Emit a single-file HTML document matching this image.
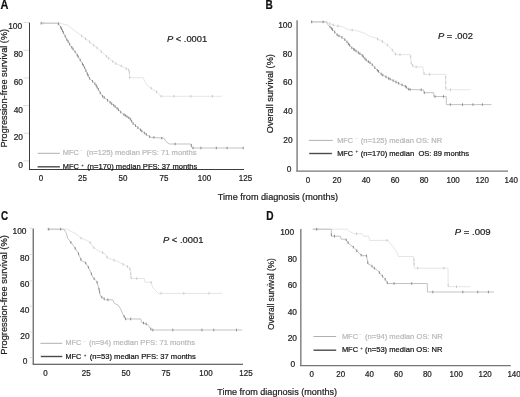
<!DOCTYPE html>
<html><head><meta charset="utf-8"><style>
html,body{margin:0;padding:0;background:#fff;width:520px;height:397px;overflow:hidden}
svg{display:block;font-family:"Liberation Sans", sans-serif;filter:blur(0.45px)}
</style></head><body>
<svg width="520" height="397" viewBox="0 0 520 397" font-family='"Liberation Sans", sans-serif'>
<rect width="520" height="397" fill="#fff"/>
<text x="0.40" y="8.50" font-size="12" text-anchor="start" fill="#111" stroke="#111" stroke-width="0.22" font-weight="bold" textLength="7.9" lengthAdjust="spacingAndGlyphs">A</text>
<text x="265.40" y="8.70" font-size="12" text-anchor="start" fill="#111" stroke="#111" stroke-width="0.22" font-weight="bold" textLength="7.3" lengthAdjust="spacingAndGlyphs">B</text>
<text x="1.00" y="220.30" font-size="12" text-anchor="start" fill="#111" stroke="#111" stroke-width="0.22" font-weight="bold" textLength="7.1" lengthAdjust="spacingAndGlyphs">C</text>
<text x="266.30" y="220.40" font-size="12" text-anchor="start" fill="#111" stroke="#111" stroke-width="0.22" font-weight="bold" textLength="7.3" lengthAdjust="spacingAndGlyphs">D</text>
<line x1="29.50" y1="22.60" x2="29.50" y2="169.50" stroke="#3c3c3c" stroke-width="1"/>
<line x1="29.00" y1="169.50" x2="244.00" y2="169.50" stroke="#3c3c3c" stroke-width="1.1"/>
<line x1="23.50" y1="22.60" x2="29.00" y2="22.60" stroke="#d0d0d0" stroke-width="0.8"/>
<line x1="23.50" y1="50.26" x2="29.00" y2="50.26" stroke="#d0d0d0" stroke-width="0.8"/>
<line x1="23.50" y1="77.92" x2="29.00" y2="77.92" stroke="#d0d0d0" stroke-width="0.8"/>
<line x1="23.50" y1="105.58" x2="29.00" y2="105.58" stroke="#d0d0d0" stroke-width="0.8"/>
<line x1="23.50" y1="133.24" x2="29.00" y2="133.24" stroke="#d0d0d0" stroke-width="0.8"/>
<line x1="23.50" y1="160.90" x2="29.00" y2="160.90" stroke="#d0d0d0" stroke-width="0.8"/>
<text x="22.20" y="29.17" font-size="8.4" text-anchor="end" fill="#222" stroke="#222" stroke-width="0.22">100</text>
<text x="23.00" y="56.97" font-size="8.4" text-anchor="end" fill="#222" stroke="#222" stroke-width="0.22">80</text>
<text x="23.00" y="84.77" font-size="8.4" text-anchor="end" fill="#222" stroke="#222" stroke-width="0.22">60</text>
<text x="23.00" y="112.57" font-size="8.4" text-anchor="end" fill="#222" stroke="#222" stroke-width="0.22">40</text>
<text x="23.00" y="140.37" font-size="8.4" text-anchor="end" fill="#222" stroke="#222" stroke-width="0.22">20</text>
<text x="23.00" y="168.17" font-size="8.4" text-anchor="end" fill="#222" stroke="#222" stroke-width="0.22">0</text>
<text x="41.00" y="181.10" font-size="8.4" text-anchor="middle" fill="#222" stroke="#222" stroke-width="0.22" textLength="4.44" lengthAdjust="spacingAndGlyphs">0</text>
<text x="82.50" y="181.10" font-size="8.4" text-anchor="middle" fill="#222" stroke="#222" stroke-width="0.22" textLength="8.87" lengthAdjust="spacingAndGlyphs">25</text>
<text x="123.00" y="181.10" font-size="8.4" text-anchor="middle" fill="#222" stroke="#222" stroke-width="0.22" textLength="8.87" lengthAdjust="spacingAndGlyphs">50</text>
<text x="164.00" y="181.10" font-size="8.4" text-anchor="middle" fill="#222" stroke="#222" stroke-width="0.22" textLength="8.87" lengthAdjust="spacingAndGlyphs">75</text>
<text x="204.50" y="181.10" font-size="8.4" text-anchor="middle" fill="#222" stroke="#222" stroke-width="0.22" textLength="13.31" lengthAdjust="spacingAndGlyphs">100</text>
<text x="245.50" y="181.10" font-size="8.4" text-anchor="middle" fill="#222" stroke="#222" stroke-width="0.22" textLength="13.31" lengthAdjust="spacingAndGlyphs">125</text>
<text x="7.10" y="147.60" font-size="9.5" text-anchor="start" fill="#222" stroke="#222" stroke-width="0.22" textLength="118.8" lengthAdjust="spacingAndGlyphs" transform="rotate(-90 7.1 147.6)">Progression-free survival (%)</text>
<text x="166.90" y="42.00" font-size="9.6" text-anchor="start" fill="#222" stroke="#222" stroke-width="0.22" textLength="40.3" lengthAdjust="spacingAndGlyphs"><tspan font-style="italic">P</tspan> &lt; .0001</text>
<line x1="37.60" y1="153.30" x2="59.90" y2="153.30" stroke="#b0b0b0" stroke-width="1"/>
<line x1="37.60" y1="166.80" x2="59.90" y2="166.80" stroke="#4a4a4a" stroke-width="1.4"/>
<text x="62.7" y="155.1" font-size="8.0" fill="#b8b8b8" stroke="#b8b8b8" stroke-width="0.22" textLength="16.10" lengthAdjust="spacingAndGlyphs">MFC</text><text x="81.7" y="152.30" font-size="4.6" fill="#b8b8b8" text-anchor="middle">−</text><text x="86.5" y="155.1" font-size="8.0" fill="#b8b8b8" stroke="#b8b8b8" stroke-width="0.22" textLength="110.00" lengthAdjust="spacingAndGlyphs">(n=125) median PFS: 71 months</text>
<text x="62.7" y="168.6" font-size="8.0" fill="#151515" stroke="#151515" stroke-width="0.22" textLength="16.10" lengthAdjust="spacingAndGlyphs">MFC</text><text x="82.7" y="167.30" font-size="4.6" fill="#151515" text-anchor="middle">+</text><text x="87.3" y="168.6" font-size="8.0" fill="#151515" stroke="#151515" stroke-width="0.22" textLength="110.00" lengthAdjust="spacingAndGlyphs">(n=170) median PFS: 37 months</text>
<text x="217.80" y="199.80" font-size="9.3" text-anchor="start" fill="#222" stroke="#222" stroke-width="0.22" textLength="120.3" lengthAdjust="spacingAndGlyphs">Time from diagnosis (months)</text>
<polyline points="41.0,23.2 58.9,23.2 62.5,23.8 67.7,25.1 73.0,29.5 79.1,33.9 84.0,37.5 89.2,41.4 93.5,45.0 98.0,48.7 103.0,53.0 108.0,57.8 115.6,63.5 123.2,67.0 129.3,70.3 129.5,77.5 143.3,77.8 144.5,81.1 146.7,85.0 151.3,88.4 157.5,92.4 160.5,96.3 222.0,96.3" fill="none" stroke="#e0e0e0" stroke-width="0.85" stroke-linejoin="round"/><line x1="43.1" y1="21.9" x2="43.1" y2="24.5" stroke="#c6c6c6" stroke-width="0.9"/><line x1="58.8" y1="21.9" x2="58.8" y2="24.5" stroke="#c6c6c6" stroke-width="0.9"/><line x1="81.8" y1="34.6" x2="81.8" y2="37.2" stroke="#c6c6c6" stroke-width="0.9"/><line x1="85.6" y1="37.4" x2="85.6" y2="40.0" stroke="#c6c6c6" stroke-width="0.9"/><line x1="89.7" y1="40.5" x2="89.7" y2="43.1" stroke="#c6c6c6" stroke-width="0.9"/><line x1="93.8" y1="43.9" x2="93.8" y2="46.5" stroke="#c6c6c6" stroke-width="0.9"/><line x1="97.0" y1="46.6" x2="97.0" y2="49.2" stroke="#c6c6c6" stroke-width="0.9"/><line x1="101.3" y1="50.3" x2="101.3" y2="52.9" stroke="#c6c6c6" stroke-width="0.9"/><line x1="106.5" y1="55.0" x2="106.5" y2="57.6" stroke="#c6c6c6" stroke-width="0.9"/><line x1="108.6" y1="56.9" x2="108.6" y2="59.5" stroke="#c6c6c6" stroke-width="0.9"/><line x1="112.8" y1="60.1" x2="112.8" y2="62.7" stroke="#c6c6c6" stroke-width="0.9"/><line x1="115.9" y1="62.3" x2="115.9" y2="64.9" stroke="#c6c6c6" stroke-width="0.9"/><line x1="121.2" y1="64.8" x2="121.2" y2="67.4" stroke="#c6c6c6" stroke-width="0.9"/><line x1="126.2" y1="67.3" x2="126.2" y2="69.9" stroke="#c6c6c6" stroke-width="0.9"/><line x1="128.6" y1="68.6" x2="128.6" y2="71.2" stroke="#c6c6c6" stroke-width="0.9"/><line x1="129.4" y1="71.2" x2="129.4" y2="73.8" stroke="#c6c6c6" stroke-width="0.9"/><line x1="129.7" y1="76.2" x2="129.7" y2="78.8" stroke="#c6c6c6" stroke-width="0.9"/><line x1="151.2" y1="87.0" x2="151.2" y2="89.6" stroke="#c6c6c6" stroke-width="0.9"/><line x1="156.6" y1="90.5" x2="156.6" y2="93.1" stroke="#c6c6c6" stroke-width="0.9"/><line x1="161.2" y1="95.0" x2="161.2" y2="97.6" stroke="#c6c6c6" stroke-width="0.9"/><line x1="173.9" y1="95.0" x2="173.9" y2="97.6" stroke="#c6c6c6" stroke-width="0.9"/><line x1="190.9" y1="95.0" x2="190.9" y2="97.6" stroke="#c6c6c6" stroke-width="0.9"/><line x1="212.4" y1="95.0" x2="212.4" y2="97.6" stroke="#c6c6c6" stroke-width="0.9"/>
<polyline points="41.0,23.2 57.7,23.2 60.2,26.3 63.5,32.7 66.5,38.9 70.3,45.2 76.6,54.0 80.5,60.5 84.1,66.6 89.2,78.0 95.5,84.3 101.8,95.6 108.0,100.6 115.6,106.9 121.9,113.2 130.2,118.7 133.0,123.5 138.3,128.1 145.0,133.5 150.4,137.2 163.8,138.2 166.0,141.5 169.2,144.0 190.8,144.0 192.1,148.0 243.3,148.0" fill="none" stroke="#b8b8b8" stroke-width="0.85" stroke-linejoin="round"/><line x1="41.1" y1="21.9" x2="41.1" y2="24.5" stroke="#858585" stroke-width="0.9"/><line x1="58.3" y1="22.6" x2="58.3" y2="25.2" stroke="#858585" stroke-width="0.9"/><line x1="60.7" y1="26.0" x2="60.7" y2="28.6" stroke="#858585" stroke-width="0.9"/><line x1="61.5" y1="27.5" x2="61.5" y2="30.1" stroke="#858585" stroke-width="0.9"/><line x1="62.5" y1="29.5" x2="62.5" y2="32.1" stroke="#858585" stroke-width="0.9"/><line x1="63.4" y1="31.3" x2="63.4" y2="33.9" stroke="#858585" stroke-width="0.9"/><line x1="65.2" y1="35.0" x2="65.2" y2="37.6" stroke="#858585" stroke-width="0.9"/><line x1="66.8" y1="38.2" x2="66.8" y2="40.8" stroke="#858585" stroke-width="0.9"/><line x1="68.1" y1="40.2" x2="68.1" y2="42.8" stroke="#858585" stroke-width="0.9"/><line x1="69.6" y1="42.8" x2="69.6" y2="45.4" stroke="#858585" stroke-width="0.9"/><line x1="71.8" y1="46.0" x2="71.8" y2="48.6" stroke="#858585" stroke-width="0.9"/><line x1="73.0" y1="47.7" x2="73.0" y2="50.3" stroke="#858585" stroke-width="0.9"/><line x1="75.1" y1="50.5" x2="75.1" y2="53.1" stroke="#858585" stroke-width="0.9"/><line x1="77.2" y1="53.8" x2="77.2" y2="56.4" stroke="#858585" stroke-width="0.9"/><line x1="78.2" y1="55.4" x2="78.2" y2="58.0" stroke="#858585" stroke-width="0.9"/><line x1="80.2" y1="58.8" x2="80.2" y2="61.4" stroke="#858585" stroke-width="0.9"/><line x1="82.5" y1="62.6" x2="82.5" y2="65.2" stroke="#858585" stroke-width="0.9"/><line x1="83.3" y1="64.0" x2="83.3" y2="66.6" stroke="#858585" stroke-width="0.9"/><line x1="84.6" y1="66.4" x2="84.6" y2="69.0" stroke="#858585" stroke-width="0.9"/><line x1="85.9" y1="69.3" x2="85.9" y2="71.9" stroke="#858585" stroke-width="0.9"/><line x1="87.3" y1="72.4" x2="87.3" y2="75.0" stroke="#858585" stroke-width="0.9"/><line x1="88.0" y1="74.0" x2="88.0" y2="76.6" stroke="#858585" stroke-width="0.9"/><line x1="89.6" y1="77.1" x2="89.6" y2="79.7" stroke="#858585" stroke-width="0.9"/><line x1="92.5" y1="80.0" x2="92.5" y2="82.6" stroke="#858585" stroke-width="0.9"/><line x1="94.9" y1="82.4" x2="94.9" y2="85.0" stroke="#858585" stroke-width="0.9"/><line x1="96.2" y1="84.2" x2="96.2" y2="86.8" stroke="#858585" stroke-width="0.9"/><line x1="97.1" y1="85.9" x2="97.1" y2="88.5" stroke="#858585" stroke-width="0.9"/><line x1="98.3" y1="88.0" x2="98.3" y2="90.6" stroke="#858585" stroke-width="0.9"/><line x1="100.2" y1="91.5" x2="100.2" y2="94.1" stroke="#858585" stroke-width="0.9"/><line x1="102.6" y1="95.0" x2="102.6" y2="97.6" stroke="#858585" stroke-width="0.9"/><line x1="104.2" y1="96.2" x2="104.2" y2="98.8" stroke="#858585" stroke-width="0.9"/><line x1="107.5" y1="98.9" x2="107.5" y2="101.5" stroke="#858585" stroke-width="0.9"/><line x1="110.1" y1="101.0" x2="110.1" y2="103.6" stroke="#858585" stroke-width="0.9"/><line x1="111.7" y1="102.4" x2="111.7" y2="105.0" stroke="#858585" stroke-width="0.9"/><line x1="113.7" y1="104.0" x2="113.7" y2="106.6" stroke="#858585" stroke-width="0.9"/><line x1="115.2" y1="105.3" x2="115.2" y2="107.9" stroke="#858585" stroke-width="0.9"/><line x1="117.1" y1="107.1" x2="117.1" y2="109.7" stroke="#858585" stroke-width="0.9"/><line x1="118.5" y1="108.5" x2="118.5" y2="111.1" stroke="#858585" stroke-width="0.9"/><line x1="120.7" y1="110.7" x2="120.7" y2="113.3" stroke="#858585" stroke-width="0.9"/><line x1="124.0" y1="113.3" x2="124.0" y2="115.9" stroke="#858585" stroke-width="0.9"/><line x1="125.3" y1="114.2" x2="125.3" y2="116.8" stroke="#858585" stroke-width="0.9"/><line x1="127.0" y1="115.3" x2="127.0" y2="117.9" stroke="#858585" stroke-width="0.9"/><line x1="128.8" y1="116.5" x2="128.8" y2="119.1" stroke="#858585" stroke-width="0.9"/><line x1="130.4" y1="117.8" x2="130.4" y2="120.4" stroke="#858585" stroke-width="0.9"/><line x1="131.6" y1="119.8" x2="131.6" y2="122.4" stroke="#858585" stroke-width="0.9"/><line x1="133.1" y1="122.3" x2="133.1" y2="124.9" stroke="#858585" stroke-width="0.9"/><line x1="135.5" y1="124.3" x2="135.5" y2="126.9" stroke="#858585" stroke-width="0.9"/><line x1="137.9" y1="126.4" x2="137.9" y2="129.0" stroke="#858585" stroke-width="0.9"/><line x1="140.5" y1="128.6" x2="140.5" y2="131.2" stroke="#858585" stroke-width="0.9"/><line x1="141.8" y1="129.7" x2="141.8" y2="132.3" stroke="#858585" stroke-width="0.9"/><line x1="144.4" y1="131.7" x2="144.4" y2="134.3" stroke="#858585" stroke-width="0.9"/><line x1="146.3" y1="133.1" x2="146.3" y2="135.7" stroke="#858585" stroke-width="0.9"/><line x1="149.6" y1="135.4" x2="149.6" y2="138.0" stroke="#858585" stroke-width="0.9"/><line x1="153.9" y1="136.2" x2="153.9" y2="138.8" stroke="#858585" stroke-width="0.9"/><line x1="161.8" y1="136.8" x2="161.8" y2="139.4" stroke="#858585" stroke-width="0.9"/><line x1="175.1" y1="142.7" x2="175.1" y2="145.3" stroke="#858585" stroke-width="0.9"/><line x1="191.3" y1="144.1" x2="191.3" y2="146.7" stroke="#858585" stroke-width="0.9"/><line x1="193.0" y1="146.7" x2="193.0" y2="149.3" stroke="#858585" stroke-width="0.9"/><line x1="200.9" y1="146.7" x2="200.9" y2="149.3" stroke="#858585" stroke-width="0.9"/><line x1="216.3" y1="146.7" x2="216.3" y2="149.3" stroke="#858585" stroke-width="0.9"/><line x1="227.1" y1="146.7" x2="227.1" y2="149.3" stroke="#858585" stroke-width="0.9"/><line x1="243.2" y1="146.7" x2="243.2" y2="149.3" stroke="#858585" stroke-width="0.9"/>
<line x1="297.10" y1="20.20" x2="297.10" y2="171.20" stroke="#8c8c8c" stroke-width="1.6"/>
<line x1="296.30" y1="171.20" x2="508.00" y2="171.20" stroke="#767676" stroke-width="1.25"/>
<text x="292.20" y="27.67" font-size="8.4" text-anchor="end" fill="#222" stroke="#222" stroke-width="0.22">100</text>
<text x="292.20" y="56.52" font-size="8.4" text-anchor="end" fill="#222" stroke="#222" stroke-width="0.22">80</text>
<text x="292.40" y="85.37" font-size="8.4" text-anchor="end" fill="#222" stroke="#222" stroke-width="0.22">60</text>
<text x="292.60" y="114.22" font-size="8.4" text-anchor="end" fill="#222" stroke="#222" stroke-width="0.22">40</text>
<text x="292.60" y="143.07" font-size="8.4" text-anchor="end" fill="#222" stroke="#222" stroke-width="0.22">20</text>
<text x="291.40" y="171.92" font-size="8.4" text-anchor="end" fill="#222" stroke="#222" stroke-width="0.22">0</text>
<text x="308.00" y="183.10" font-size="8.4" text-anchor="middle" fill="#222" stroke="#222" stroke-width="0.22" textLength="4.44" lengthAdjust="spacingAndGlyphs">0</text>
<text x="337.03" y="183.10" font-size="8.4" text-anchor="middle" fill="#222" stroke="#222" stroke-width="0.22" textLength="8.87" lengthAdjust="spacingAndGlyphs">20</text>
<text x="366.06" y="183.10" font-size="8.4" text-anchor="middle" fill="#222" stroke="#222" stroke-width="0.22" textLength="8.87" lengthAdjust="spacingAndGlyphs">40</text>
<text x="395.09" y="183.10" font-size="8.4" text-anchor="middle" fill="#222" stroke="#222" stroke-width="0.22" textLength="8.87" lengthAdjust="spacingAndGlyphs">60</text>
<text x="424.12" y="183.10" font-size="8.4" text-anchor="middle" fill="#222" stroke="#222" stroke-width="0.22" textLength="8.87" lengthAdjust="spacingAndGlyphs">80</text>
<text x="453.15" y="183.10" font-size="8.4" text-anchor="middle" fill="#222" stroke="#222" stroke-width="0.22" textLength="13.31" lengthAdjust="spacingAndGlyphs">100</text>
<text x="482.18" y="183.10" font-size="8.4" text-anchor="middle" fill="#222" stroke="#222" stroke-width="0.22" textLength="13.31" lengthAdjust="spacingAndGlyphs">120</text>
<text x="511.21" y="183.10" font-size="8.4" text-anchor="middle" fill="#222" stroke="#222" stroke-width="0.22" textLength="13.31" lengthAdjust="spacingAndGlyphs">140</text>
<text x="273.40" y="133.20" font-size="9.5" text-anchor="start" fill="#222" stroke="#222" stroke-width="0.22" textLength="79" lengthAdjust="spacingAndGlyphs" transform="rotate(-90 273.4 133.2)">Overall survival (%)</text>
<text x="437.90" y="38.60" font-size="9.4" text-anchor="start" fill="#222" stroke="#222" stroke-width="0.22" textLength="35" lengthAdjust="spacingAndGlyphs"><tspan font-style="italic">P</tspan> = .002</text>
<line x1="308.80" y1="140.40" x2="332.70" y2="140.40" stroke="#b0b0b0" stroke-width="1"/>
<line x1="309.20" y1="153.50" x2="331.90" y2="153.50" stroke="#4a4a4a" stroke-width="1.4"/>
<text x="337.3" y="142.6" font-size="8.0" fill="#b8b8b8" stroke="#b8b8b8" stroke-width="0.22" textLength="15.80" lengthAdjust="spacingAndGlyphs">MFC</text><text x="356.5" y="139.70" font-size="4.6" fill="#b8b8b8" text-anchor="middle">−</text><text x="360.8" y="142.6" font-size="8.0" fill="#b8b8b8" stroke="#b8b8b8" stroke-width="0.22" textLength="81.30" lengthAdjust="spacingAndGlyphs">(n=125) median OS: NR</text>
<text x="337.3" y="155.7" font-size="8.0" fill="#151515" stroke="#151515" stroke-width="0.22" textLength="15.80" lengthAdjust="spacingAndGlyphs">MFC</text><text x="356.9" y="153.30" font-size="4.6" fill="#151515" text-anchor="middle">+</text><text x="360.8" y="155.7" font-size="8.0" fill="#151515" stroke="#151515" stroke-width="0.22" textLength="108.20" lengthAdjust="spacingAndGlyphs">(n=170) median&#160; OS: 89 months</text>
<polyline points="311.2,21.9 326.5,21.9 329.6,23.5 335.8,25.8 341.9,26.5 348.1,29.6 355.8,30.4 365.0,33.5 369.6,36.5 375.0,37.7 381.2,40.8 385.8,43.8 389.6,46.9 394.2,52.3 395.8,54.6 410.4,54.6 411.2,63.1 413.5,66.9 422.7,66.9 424.2,74.4 445.6,74.4 445.8,89.8 470.4,89.8" fill="none" stroke="#e0e0e0" stroke-width="0.85" stroke-linejoin="round"/><line x1="311.6" y1="20.6" x2="311.6" y2="23.2" stroke="#c6c6c6" stroke-width="0.9"/><line x1="329.8" y1="22.3" x2="329.8" y2="24.9" stroke="#c6c6c6" stroke-width="0.9"/><line x1="333.3" y1="23.6" x2="333.3" y2="26.2" stroke="#c6c6c6" stroke-width="0.9"/><line x1="337.9" y1="24.7" x2="337.9" y2="27.3" stroke="#c6c6c6" stroke-width="0.9"/><line x1="352.2" y1="28.7" x2="352.2" y2="31.3" stroke="#c6c6c6" stroke-width="0.9"/><line x1="377.6" y1="37.7" x2="377.6" y2="40.3" stroke="#c6c6c6" stroke-width="0.9"/><line x1="382.3" y1="40.2" x2="382.3" y2="42.8" stroke="#c6c6c6" stroke-width="0.9"/><line x1="387.4" y1="43.8" x2="387.4" y2="46.4" stroke="#c6c6c6" stroke-width="0.9"/><line x1="392.3" y1="48.8" x2="392.3" y2="51.4" stroke="#c6c6c6" stroke-width="0.9"/><line x1="395.4" y1="52.7" x2="395.4" y2="55.3" stroke="#c6c6c6" stroke-width="0.9"/><line x1="400.0" y1="53.3" x2="400.0" y2="55.9" stroke="#c6c6c6" stroke-width="0.9"/><line x1="410.6" y1="55.4" x2="410.6" y2="58.0" stroke="#c6c6c6" stroke-width="0.9"/><line x1="411.2" y1="61.8" x2="411.2" y2="64.4" stroke="#c6c6c6" stroke-width="0.9"/><line x1="412.7" y1="64.2" x2="412.7" y2="66.8" stroke="#c6c6c6" stroke-width="0.9"/><line x1="416.2" y1="65.6" x2="416.2" y2="68.2" stroke="#c6c6c6" stroke-width="0.9"/><line x1="424.0" y1="72.3" x2="424.0" y2="74.9" stroke="#c6c6c6" stroke-width="0.9"/><line x1="429.6" y1="73.1" x2="429.6" y2="75.7" stroke="#c6c6c6" stroke-width="0.9"/><line x1="445.6" y1="76.2" x2="445.6" y2="78.8" stroke="#c6c6c6" stroke-width="0.9"/><line x1="445.7" y1="81.2" x2="445.7" y2="83.8" stroke="#c6c6c6" stroke-width="0.9"/><line x1="445.8" y1="86.4" x2="445.8" y2="89.0" stroke="#c6c6c6" stroke-width="0.9"/><line x1="450.4" y1="88.5" x2="450.4" y2="91.1" stroke="#c6c6c6" stroke-width="0.9"/>
<polyline points="311.2,21.9 326.5,21.9 328.1,25.0 331.9,28.8 337.3,35.0 341.9,37.3 345.8,40.4 351.2,47.3 357.3,51.9 361.9,55.0 366.5,60.4 371.2,63.5 375.8,68.8 381.9,74.6 388.8,78.5 395.0,81.5 401.2,84.6 405.0,86.0 408.8,89.5 423.3,89.8 424.2,92.7 433.8,92.7 433.8,96.5 446.3,96.5 446.3,104.6 491.5,104.6" fill="none" stroke="#b8b8b8" stroke-width="0.85" stroke-linejoin="round"/><line x1="311.7" y1="20.6" x2="311.7" y2="23.2" stroke="#858585" stroke-width="0.9"/><line x1="323.1" y1="20.6" x2="323.1" y2="23.2" stroke="#858585" stroke-width="0.9"/><line x1="330.1" y1="25.7" x2="330.1" y2="28.3" stroke="#858585" stroke-width="0.9"/><line x1="331.6" y1="27.2" x2="331.6" y2="29.8" stroke="#858585" stroke-width="0.9"/><line x1="332.5" y1="28.2" x2="332.5" y2="30.8" stroke="#858585" stroke-width="0.9"/><line x1="334.7" y1="30.7" x2="334.7" y2="33.3" stroke="#858585" stroke-width="0.9"/><line x1="337.1" y1="33.5" x2="337.1" y2="36.1" stroke="#858585" stroke-width="0.9"/><line x1="338.9" y1="34.5" x2="338.9" y2="37.1" stroke="#858585" stroke-width="0.9"/><line x1="341.9" y1="36.0" x2="341.9" y2="38.6" stroke="#858585" stroke-width="0.9"/><line x1="344.8" y1="38.3" x2="344.8" y2="40.9" stroke="#858585" stroke-width="0.9"/><line x1="347.0" y1="40.7" x2="347.0" y2="43.3" stroke="#858585" stroke-width="0.9"/><line x1="348.6" y1="42.7" x2="348.6" y2="45.3" stroke="#858585" stroke-width="0.9"/><line x1="349.6" y1="43.9" x2="349.6" y2="46.5" stroke="#858585" stroke-width="0.9"/><line x1="351.8" y1="46.5" x2="351.8" y2="49.1" stroke="#858585" stroke-width="0.9"/><line x1="353.7" y1="47.9" x2="353.7" y2="50.5" stroke="#858585" stroke-width="0.9"/><line x1="354.7" y1="48.6" x2="354.7" y2="51.2" stroke="#858585" stroke-width="0.9"/><line x1="356.1" y1="49.7" x2="356.1" y2="52.3" stroke="#858585" stroke-width="0.9"/><line x1="358.4" y1="51.3" x2="358.4" y2="53.9" stroke="#858585" stroke-width="0.9"/><line x1="359.9" y1="52.4" x2="359.9" y2="55.0" stroke="#858585" stroke-width="0.9"/><line x1="362.2" y1="54.1" x2="362.2" y2="56.7" stroke="#858585" stroke-width="0.9"/><line x1="363.3" y1="55.4" x2="363.3" y2="58.0" stroke="#858585" stroke-width="0.9"/><line x1="364.9" y1="57.3" x2="364.9" y2="59.9" stroke="#858585" stroke-width="0.9"/><line x1="366.2" y1="58.8" x2="366.2" y2="61.4" stroke="#858585" stroke-width="0.9"/><line x1="368.4" y1="60.3" x2="368.4" y2="62.9" stroke="#858585" stroke-width="0.9"/><line x1="370.0" y1="61.4" x2="370.0" y2="64.0" stroke="#858585" stroke-width="0.9"/><line x1="372.3" y1="63.5" x2="372.3" y2="66.1" stroke="#858585" stroke-width="0.9"/><line x1="374.8" y1="66.4" x2="374.8" y2="69.0" stroke="#858585" stroke-width="0.9"/><line x1="377.4" y1="69.0" x2="377.4" y2="71.6" stroke="#858585" stroke-width="0.9"/><line x1="378.5" y1="70.0" x2="378.5" y2="72.6" stroke="#858585" stroke-width="0.9"/><line x1="381.2" y1="72.7" x2="381.2" y2="75.3" stroke="#858585" stroke-width="0.9"/><line x1="382.8" y1="73.8" x2="382.8" y2="76.4" stroke="#858585" stroke-width="0.9"/><line x1="386.0" y1="75.6" x2="386.0" y2="78.2" stroke="#858585" stroke-width="0.9"/><line x1="388.6" y1="77.1" x2="388.6" y2="79.7" stroke="#858585" stroke-width="0.9"/><line x1="390.1" y1="77.8" x2="390.1" y2="80.4" stroke="#858585" stroke-width="0.9"/><line x1="393.2" y1="79.3" x2="393.2" y2="81.9" stroke="#858585" stroke-width="0.9"/><line x1="396.0" y1="80.7" x2="396.0" y2="83.3" stroke="#858585" stroke-width="0.9"/><line x1="398.6" y1="82.0" x2="398.6" y2="84.6" stroke="#858585" stroke-width="0.9"/><line x1="402.1" y1="83.6" x2="402.1" y2="86.2" stroke="#858585" stroke-width="0.9"/><line x1="405.3" y1="85.0" x2="405.3" y2="87.6" stroke="#858585" stroke-width="0.9"/><line x1="406.4" y1="86.0" x2="406.4" y2="88.6" stroke="#858585" stroke-width="0.9"/><line x1="408.4" y1="87.8" x2="408.4" y2="90.4" stroke="#858585" stroke-width="0.9"/><line x1="410.1" y1="88.2" x2="410.1" y2="90.8" stroke="#858585" stroke-width="0.9"/><line x1="421.2" y1="88.5" x2="421.2" y2="91.1" stroke="#858585" stroke-width="0.9"/><line x1="424.3" y1="91.4" x2="424.3" y2="94.0" stroke="#858585" stroke-width="0.9"/><line x1="435.0" y1="95.2" x2="435.0" y2="97.8" stroke="#858585" stroke-width="0.9"/><line x1="443.5" y1="95.2" x2="443.5" y2="97.8" stroke="#858585" stroke-width="0.9"/><line x1="450.3" y1="103.3" x2="450.3" y2="105.9" stroke="#858585" stroke-width="0.9"/><line x1="462.5" y1="103.3" x2="462.5" y2="105.9" stroke="#858585" stroke-width="0.9"/><line x1="473.0" y1="103.3" x2="473.0" y2="105.9" stroke="#858585" stroke-width="0.9"/><line x1="482.4" y1="103.3" x2="482.4" y2="105.9" stroke="#858585" stroke-width="0.9"/>
<line x1="33.20" y1="228.50" x2="33.20" y2="364.20" stroke="#3c3c3c" stroke-width="1"/>
<line x1="32.70" y1="364.20" x2="243.00" y2="364.20" stroke="#3c3c3c" stroke-width="1.1"/>
<line x1="29.50" y1="228.20" x2="32.70" y2="228.20" stroke="#d0d0d0" stroke-width="0.8"/>
<text x="26.50" y="233.80" font-size="8.4" text-anchor="end" fill="#222" stroke="#222" stroke-width="0.22">100</text>
<line x1="29.50" y1="254.60" x2="32.70" y2="254.60" stroke="#d0d0d0" stroke-width="0.8"/>
<text x="29.40" y="261.20" font-size="8.4" text-anchor="end" fill="#222" stroke="#222" stroke-width="0.22">80</text>
<line x1="29.50" y1="280.80" x2="32.70" y2="280.80" stroke="#d0d0d0" stroke-width="0.8"/>
<text x="29.40" y="287.40" font-size="8.4" text-anchor="end" fill="#222" stroke="#222" stroke-width="0.22">60</text>
<line x1="29.50" y1="306.20" x2="32.70" y2="306.20" stroke="#d0d0d0" stroke-width="0.8"/>
<text x="29.40" y="312.80" font-size="8.4" text-anchor="end" fill="#222" stroke="#222" stroke-width="0.22">40</text>
<line x1="29.50" y1="332.00" x2="32.70" y2="332.00" stroke="#d0d0d0" stroke-width="0.8"/>
<text x="29.60" y="338.60" font-size="8.4" text-anchor="end" fill="#222" stroke="#222" stroke-width="0.22">20</text>
<line x1="29.50" y1="357.60" x2="32.70" y2="357.60" stroke="#d0d0d0" stroke-width="0.8"/>
<text x="27.40" y="364.20" font-size="8.4" text-anchor="end" fill="#222" stroke="#222" stroke-width="0.22">0</text>
<text x="45.50" y="376.10" font-size="8.4" text-anchor="middle" fill="#222" stroke="#222" stroke-width="0.22" textLength="4.44" lengthAdjust="spacingAndGlyphs">0</text>
<text x="86.20" y="376.10" font-size="8.4" text-anchor="middle" fill="#222" stroke="#222" stroke-width="0.22" textLength="8.87" lengthAdjust="spacingAndGlyphs">25</text>
<text x="126.00" y="376.10" font-size="8.4" text-anchor="middle" fill="#222" stroke="#222" stroke-width="0.22" textLength="8.87" lengthAdjust="spacingAndGlyphs">50</text>
<text x="166.00" y="376.10" font-size="8.4" text-anchor="middle" fill="#222" stroke="#222" stroke-width="0.22" textLength="8.87" lengthAdjust="spacingAndGlyphs">75</text>
<text x="206.00" y="376.10" font-size="8.4" text-anchor="middle" fill="#222" stroke="#222" stroke-width="0.22" textLength="13.31" lengthAdjust="spacingAndGlyphs">100</text>
<text x="246.00" y="376.10" font-size="8.4" text-anchor="middle" fill="#222" stroke="#222" stroke-width="0.22" textLength="13.31" lengthAdjust="spacingAndGlyphs">125</text>
<text x="7.00" y="354.80" font-size="9.5" text-anchor="start" fill="#222" stroke="#222" stroke-width="0.22" textLength="119.6" lengthAdjust="spacingAndGlyphs" transform="rotate(-90 7.0 354.8)">Progression-free survival (%)</text>
<text x="163.00" y="243.40" font-size="9.8" text-anchor="start" fill="#222" stroke="#222" stroke-width="0.22" textLength="40.4" lengthAdjust="spacingAndGlyphs"><tspan font-style="italic">P</tspan> &lt; .0001</text>
<line x1="40.40" y1="343.30" x2="62.30" y2="343.30" stroke="#b0b0b0" stroke-width="1"/>
<line x1="40.80" y1="356.50" x2="62.30" y2="356.50" stroke="#4a4a4a" stroke-width="1.4"/>
<text x="65.5" y="345.2" font-size="8.0" fill="#b8b8b8" stroke="#b8b8b8" stroke-width="0.22" textLength="15.70" lengthAdjust="spacingAndGlyphs">MFC</text><text x="84.7" y="343.30" font-size="4.6" fill="#b8b8b8" text-anchor="middle">−</text><text x="88.9" y="345.2" font-size="8.0" fill="#b8b8b8" stroke="#b8b8b8" stroke-width="0.22" textLength="106.10" lengthAdjust="spacingAndGlyphs">(n=94) median PFS: 71 months</text>
<text x="65.5" y="358.7" font-size="8.0" fill="#151515" stroke="#151515" stroke-width="0.22" textLength="15.70" lengthAdjust="spacingAndGlyphs">MFC</text><text x="85.1" y="356.70" font-size="4.6" fill="#151515" text-anchor="middle">+</text><text x="89.7" y="358.7" font-size="8.0" fill="#151515" stroke="#151515" stroke-width="0.22" textLength="106.10" lengthAdjust="spacingAndGlyphs">(n=53) median PFS: 37 months</text>
<text x="217.20" y="394.80" font-size="9.3" text-anchor="start" fill="#222" stroke="#222" stroke-width="0.22" textLength="119.9" lengthAdjust="spacingAndGlyphs">Time from diagnosis (months)</text>
<polyline points="47.7,229.2 67.0,229.2 71.5,231.5 77.0,234.6 80.8,238.0 86.0,240.0 90.0,242.3 93.0,247.0 97.3,250.0 100.0,251.5 105.0,253.8 107.3,257.7 113.5,260.0 118.0,261.5 123.5,264.6 129.6,267.7 130.4,271.5 131.2,278.5 144.2,278.5 145.0,282.3 151.2,282.3 152.7,287.7 157.3,292.3 158.0,293.4 222.0,293.4" fill="none" stroke="#e0e0e0" stroke-width="0.85" stroke-linejoin="round"/><line x1="48.2" y1="227.9" x2="48.2" y2="230.5" stroke="#c6c6c6" stroke-width="0.9"/><line x1="81.0" y1="236.8" x2="81.0" y2="239.4" stroke="#c6c6c6" stroke-width="0.9"/><line x1="90.2" y1="241.3" x2="90.2" y2="243.9" stroke="#c6c6c6" stroke-width="0.9"/><line x1="93.9" y1="246.4" x2="93.9" y2="249.0" stroke="#c6c6c6" stroke-width="0.9"/><line x1="102.7" y1="251.4" x2="102.7" y2="254.0" stroke="#c6c6c6" stroke-width="0.9"/><line x1="107.0" y1="255.9" x2="107.0" y2="258.5" stroke="#c6c6c6" stroke-width="0.9"/><line x1="114.1" y1="258.9" x2="114.1" y2="261.5" stroke="#c6c6c6" stroke-width="0.9"/><line x1="123.1" y1="263.1" x2="123.1" y2="265.7" stroke="#c6c6c6" stroke-width="0.9"/><line x1="127.5" y1="265.3" x2="127.5" y2="267.9" stroke="#c6c6c6" stroke-width="0.9"/><line x1="129.9" y1="267.8" x2="129.9" y2="270.4" stroke="#c6c6c6" stroke-width="0.9"/><line x1="130.7" y1="272.4" x2="130.7" y2="275.0" stroke="#c6c6c6" stroke-width="0.9"/><line x1="131.1" y1="276.2" x2="131.1" y2="278.8" stroke="#c6c6c6" stroke-width="0.9"/><line x1="136.7" y1="277.2" x2="136.7" y2="279.8" stroke="#c6c6c6" stroke-width="0.9"/><line x1="151.1" y1="281.0" x2="151.1" y2="283.6" stroke="#c6c6c6" stroke-width="0.9"/><line x1="161.1" y1="292.1" x2="161.1" y2="294.7" stroke="#c6c6c6" stroke-width="0.9"/><line x1="183.8" y1="292.1" x2="183.8" y2="294.7" stroke="#c6c6c6" stroke-width="0.9"/><line x1="209.0" y1="292.1" x2="209.0" y2="294.7" stroke="#c6c6c6" stroke-width="0.9"/>
<polyline points="47.7,229.2 63.9,229.2 66.4,233.3 67.7,238.4 72.7,244.7 77.8,252.2 81.6,261.0 85.3,262.3 89.1,268.6 92.9,277.4 96.7,281.2 98.5,287.0 100.5,296.3 105.5,299.8 112.7,299.8 114.5,303.5 118.0,305.0 120.6,308.9 122.5,313.5 125.6,319.0 140.8,319.0 141.5,322.3 147.7,324.6 151.5,330.0 242.3,330.0" fill="none" stroke="#b8b8b8" stroke-width="0.85" stroke-linejoin="round"/><line x1="48.8" y1="227.9" x2="48.8" y2="230.5" stroke="#858585" stroke-width="0.9"/><line x1="60.6" y1="227.9" x2="60.6" y2="230.5" stroke="#858585" stroke-width="0.9"/><line x1="70.9" y1="241.1" x2="70.9" y2="243.7" stroke="#858585" stroke-width="0.9"/><line x1="75.2" y1="247.1" x2="75.2" y2="249.7" stroke="#858585" stroke-width="0.9"/><line x1="78.5" y1="252.5" x2="78.5" y2="255.1" stroke="#858585" stroke-width="0.9"/><line x1="80.9" y1="258.1" x2="80.9" y2="260.7" stroke="#858585" stroke-width="0.9"/><line x1="85.7" y1="261.7" x2="85.7" y2="264.3" stroke="#858585" stroke-width="0.9"/><line x1="88.4" y1="266.1" x2="88.4" y2="268.7" stroke="#858585" stroke-width="0.9"/><line x1="91.4" y1="272.6" x2="91.4" y2="275.2" stroke="#858585" stroke-width="0.9"/><line x1="94.1" y1="277.3" x2="94.1" y2="279.9" stroke="#858585" stroke-width="0.9"/><line x1="97.1" y1="281.1" x2="97.1" y2="283.7" stroke="#858585" stroke-width="0.9"/><line x1="99.0" y1="287.9" x2="99.0" y2="290.5" stroke="#858585" stroke-width="0.9"/><line x1="99.6" y1="290.6" x2="99.6" y2="293.2" stroke="#858585" stroke-width="0.9"/><line x1="101.8" y1="295.9" x2="101.8" y2="298.5" stroke="#858585" stroke-width="0.9"/><line x1="104.2" y1="297.6" x2="104.2" y2="300.2" stroke="#858585" stroke-width="0.9"/><line x1="107.9" y1="298.5" x2="107.9" y2="301.1" stroke="#858585" stroke-width="0.9"/><line x1="124.2" y1="315.2" x2="124.2" y2="317.8" stroke="#858585" stroke-width="0.9"/><line x1="125.5" y1="317.6" x2="125.5" y2="320.2" stroke="#858585" stroke-width="0.9"/><line x1="130.6" y1="317.7" x2="130.6" y2="320.3" stroke="#858585" stroke-width="0.9"/><line x1="143.5" y1="321.7" x2="143.5" y2="324.3" stroke="#858585" stroke-width="0.9"/><line x1="146.2" y1="322.7" x2="146.2" y2="325.3" stroke="#858585" stroke-width="0.9"/><line x1="150.8" y1="327.7" x2="150.8" y2="330.3" stroke="#858585" stroke-width="0.9"/><line x1="152.8" y1="328.7" x2="152.8" y2="331.3" stroke="#858585" stroke-width="0.9"/><line x1="172.8" y1="328.7" x2="172.8" y2="331.3" stroke="#858585" stroke-width="0.9"/><line x1="201.9" y1="328.7" x2="201.9" y2="331.3" stroke="#858585" stroke-width="0.9"/><line x1="213.8" y1="328.7" x2="213.8" y2="331.3" stroke="#858585" stroke-width="0.9"/><line x1="236.5" y1="328.7" x2="236.5" y2="331.3" stroke="#858585" stroke-width="0.9"/>
<line x1="300.80" y1="228.90" x2="300.80" y2="365.50" stroke="#8c8c8c" stroke-width="1.6"/>
<line x1="300.00" y1="365.50" x2="510.80" y2="365.50" stroke="#767676" stroke-width="1.25"/>
<text x="294.20" y="235.47" font-size="8.4" text-anchor="end" fill="#222" stroke="#222" stroke-width="0.22">100</text>
<text x="297.00" y="262.22" font-size="8.4" text-anchor="end" fill="#222" stroke="#222" stroke-width="0.22">80</text>
<text x="297.00" y="288.47" font-size="8.4" text-anchor="end" fill="#222" stroke="#222" stroke-width="0.22">60</text>
<text x="297.00" y="314.72" font-size="8.4" text-anchor="end" fill="#222" stroke="#222" stroke-width="0.22">40</text>
<text x="297.00" y="340.97" font-size="8.4" text-anchor="end" fill="#222" stroke="#222" stroke-width="0.22">20</text>
<text x="295.20" y="367.22" font-size="8.4" text-anchor="end" fill="#222" stroke="#222" stroke-width="0.22">0</text>
<text x="311.75" y="377.20" font-size="8.4" text-anchor="middle" fill="#222" stroke="#222" stroke-width="0.22" textLength="4.44" lengthAdjust="spacingAndGlyphs">0</text>
<text x="340.65" y="377.20" font-size="8.4" text-anchor="middle" fill="#222" stroke="#222" stroke-width="0.22" textLength="8.87" lengthAdjust="spacingAndGlyphs">20</text>
<text x="369.55" y="377.20" font-size="8.4" text-anchor="middle" fill="#222" stroke="#222" stroke-width="0.22" textLength="8.87" lengthAdjust="spacingAndGlyphs">40</text>
<text x="398.45" y="377.20" font-size="8.4" text-anchor="middle" fill="#222" stroke="#222" stroke-width="0.22" textLength="8.87" lengthAdjust="spacingAndGlyphs">60</text>
<text x="427.35" y="377.20" font-size="8.4" text-anchor="middle" fill="#222" stroke="#222" stroke-width="0.22" textLength="8.87" lengthAdjust="spacingAndGlyphs">80</text>
<text x="456.25" y="377.20" font-size="8.4" text-anchor="middle" fill="#222" stroke="#222" stroke-width="0.22" textLength="13.31" lengthAdjust="spacingAndGlyphs">100</text>
<text x="485.15" y="377.20" font-size="8.4" text-anchor="middle" fill="#222" stroke="#222" stroke-width="0.22" textLength="13.31" lengthAdjust="spacingAndGlyphs">120</text>
<text x="514.05" y="377.20" font-size="8.4" text-anchor="middle" fill="#222" stroke="#222" stroke-width="0.22" textLength="13.31" lengthAdjust="spacingAndGlyphs">140</text>
<text x="274.20" y="330.00" font-size="8.4" text-anchor="start" fill="#222" stroke="#222" stroke-width="0.22" textLength="71.8" lengthAdjust="spacingAndGlyphs" transform="rotate(-90 274.2 330)">Overall survival (%)</text>
<text x="454.80" y="235.00" font-size="9.3" text-anchor="start" fill="#222" stroke="#222" stroke-width="0.22" textLength="35.9" lengthAdjust="spacingAndGlyphs"><tspan font-style="italic">P</tspan> = .009</text>
<line x1="313.50" y1="336.50" x2="336.20" y2="336.50" stroke="#b0b0b0" stroke-width="1"/>
<line x1="313.50" y1="350.20" x2="336.20" y2="350.20" stroke="#4a4a4a" stroke-width="1.4"/>
<text x="341.9" y="338.5" font-size="8.0" fill="#b8b8b8" stroke="#b8b8b8" stroke-width="0.22" textLength="16.20" lengthAdjust="spacingAndGlyphs">MFC</text><text x="360.4" y="335.70" font-size="4.6" fill="#b8b8b8" text-anchor="middle">−</text><text x="365" y="338.5" font-size="8.0" fill="#b8b8b8" stroke="#b8b8b8" stroke-width="0.22" textLength="77.70" lengthAdjust="spacingAndGlyphs">(n=94) median OS: NR</text>
<text x="341.9" y="351.5" font-size="8.0" fill="#151515" stroke="#151515" stroke-width="0.22" textLength="16.20" lengthAdjust="spacingAndGlyphs">MFC</text><text x="361.5" y="349.60" font-size="4.6" fill="#151515" text-anchor="middle">+</text><text x="365" y="351.5" font-size="8.0" fill="#151515" stroke="#151515" stroke-width="0.22" textLength="77.40" lengthAdjust="spacingAndGlyphs">(n=53) median OS: NR</text>
<polyline points="312.7,229.2 347.3,229.2 349.6,231.5 354.2,233.8 362.0,233.8 363.5,236.2 368.8,236.2 369.6,240.4 388.5,240.4 390.0,243.2 393.0,246.5 397.0,252.7 398.5,256.5 413.8,256.5 414.2,268.2 448.0,268.2 448.2,286.7 470.6,286.7" fill="none" stroke="#e0e0e0" stroke-width="0.85" stroke-linejoin="round"/><line x1="317.9" y1="227.9" x2="317.9" y2="230.5" stroke="#c6c6c6" stroke-width="0.9"/><line x1="356.7" y1="232.5" x2="356.7" y2="235.1" stroke="#c6c6c6" stroke-width="0.9"/><line x1="386.9" y1="239.1" x2="386.9" y2="241.7" stroke="#c6c6c6" stroke-width="0.9"/><line x1="413.9" y1="258.6" x2="413.9" y2="261.2" stroke="#c6c6c6" stroke-width="0.9"/><line x1="414.1" y1="262.9" x2="414.1" y2="265.5" stroke="#c6c6c6" stroke-width="0.9"/><line x1="417.7" y1="266.9" x2="417.7" y2="269.5" stroke="#c6c6c6" stroke-width="0.9"/><line x1="443.8" y1="266.9" x2="443.8" y2="269.5" stroke="#c6c6c6" stroke-width="0.9"/><line x1="448.2" y1="284.1" x2="448.2" y2="286.7" stroke="#c6c6c6" stroke-width="0.9"/><line x1="456.5" y1="285.4" x2="456.5" y2="288.0" stroke="#c6c6c6" stroke-width="0.9"/>
<polyline points="312.7,229.2 331.2,229.2 331.5,236.2 340.4,236.2 341.2,239.2 345.8,239.2 348.8,243.8 354.2,247.7 359.6,253.8 362.0,255.7 366.5,255.7 368.0,263.8 371.2,265.4 373.5,267.7 377.3,270.0 380.4,273.8 385.4,279.6 387.7,283.5 427.3,283.5 427.5,292.0 494.0,292.0" fill="none" stroke="#b8b8b8" stroke-width="0.85" stroke-linejoin="round"/><line x1="316.4" y1="227.9" x2="316.4" y2="230.5" stroke="#858585" stroke-width="0.9"/><line x1="331.4" y1="233.5" x2="331.4" y2="236.1" stroke="#858585" stroke-width="0.9"/><line x1="334.5" y1="234.9" x2="334.5" y2="237.5" stroke="#858585" stroke-width="0.9"/><line x1="346.2" y1="238.6" x2="346.2" y2="241.2" stroke="#858585" stroke-width="0.9"/><line x1="348.1" y1="241.4" x2="348.1" y2="244.0" stroke="#858585" stroke-width="0.9"/><line x1="353.3" y1="245.8" x2="353.3" y2="248.4" stroke="#858585" stroke-width="0.9"/><line x1="356.8" y1="249.4" x2="356.8" y2="252.0" stroke="#858585" stroke-width="0.9"/><line x1="361.2" y1="253.8" x2="361.2" y2="256.4" stroke="#858585" stroke-width="0.9"/><line x1="366.5" y1="254.5" x2="366.5" y2="257.1" stroke="#858585" stroke-width="0.9"/><line x1="367.8" y1="261.3" x2="367.8" y2="263.9" stroke="#858585" stroke-width="0.9"/><line x1="372.0" y1="264.9" x2="372.0" y2="267.5" stroke="#858585" stroke-width="0.9"/><line x1="374.3" y1="266.9" x2="374.3" y2="269.5" stroke="#858585" stroke-width="0.9"/><line x1="379.4" y1="271.3" x2="379.4" y2="273.9" stroke="#858585" stroke-width="0.9"/><line x1="382.4" y1="274.8" x2="382.4" y2="277.4" stroke="#858585" stroke-width="0.9"/><line x1="385.2" y1="278.0" x2="385.2" y2="280.6" stroke="#858585" stroke-width="0.9"/><line x1="387.3" y1="281.5" x2="387.3" y2="284.1" stroke="#858585" stroke-width="0.9"/><line x1="394.1" y1="282.2" x2="394.1" y2="284.8" stroke="#858585" stroke-width="0.9"/><line x1="411.7" y1="282.2" x2="411.7" y2="284.8" stroke="#858585" stroke-width="0.9"/><line x1="432.8" y1="290.7" x2="432.8" y2="293.3" stroke="#858585" stroke-width="0.9"/><line x1="462.8" y1="290.7" x2="462.8" y2="293.3" stroke="#858585" stroke-width="0.9"/><line x1="477.8" y1="290.7" x2="477.8" y2="293.3" stroke="#858585" stroke-width="0.9"/><line x1="488.4" y1="290.7" x2="488.4" y2="293.3" stroke="#858585" stroke-width="0.9"/>
</svg>
</body></html>
